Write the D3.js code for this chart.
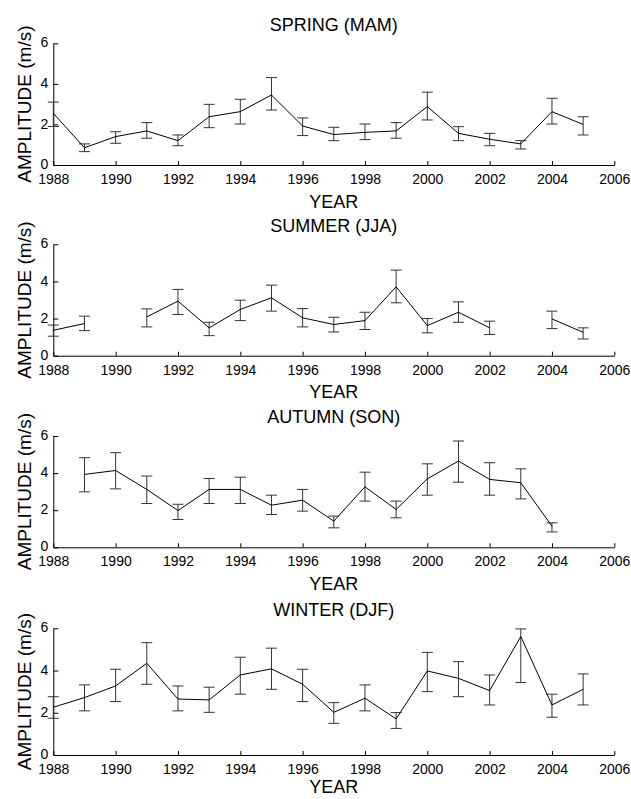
<!DOCTYPE html>
<html>
<head>
<meta charset="utf-8">
<script src="https://cdn.jsdelivr.net/npm/d3@7"></script>
<style>
body { margin: 0; background: #fff; }
text { font-family: "Liberation Sans", Arial, sans-serif; fill: #000; }
</style>
</head>
<body>
<svg id="chart" width="631" height="799"></svg>
<script>
var years = [1988,1989,1990,1991,1992,1993,1994,1995,1996,1997,1998,1999,2000,2001,2002,2003,2004,2005];
var xTicks = [1988,1990,1992,1994,1996,1998,2000,2002,2004,2006];
var yTicks = [0,2,4,6];
var titles = ["SPRING (MAM)", "SUMMER (JJA)", "AUTUMN (SON)", "WINTER (DJF)"];

// amplitude (m/s), with lower / upper end of the error bar; null = no data
var spring    = [2.55,0.85,1.40,1.68,1.20,2.38,2.63,3.45,1.92,1.50,1.61,1.68,2.88,1.56,1.27,1.04,2.63,2.00];
var springLo  = [1.90,0.66,1.07,1.32,0.95,1.84,2.02,2.71,1.45,1.20,1.25,1.32,2.22,1.20,0.95,0.79,2.02,1.48];
var springHi  = [3.10,1.04,1.64,2.09,1.48,2.99,3.24,4.31,2.32,1.86,2.02,2.09,3.59,1.89,1.56,1.20,3.29,2.38];

var summer    = [1.37,1.73,null,2.09,2.94,1.50,2.49,3.12,2.04,1.68,1.89,3.71,1.62,2.34,1.50,null,1.98,1.26];
var summerLo  = [1.05,1.35,null,1.55,2.22,1.08,1.89,2.40,1.55,1.28,1.41,2.85,1.23,1.80,1.14,null,1.46,0.90];
var summerHi  = [1.65,2.13,null,2.52,3.57,1.80,2.99,3.80,2.54,2.07,2.34,4.61,2.00,2.90,1.86,null,2.40,1.50];

var autumn    = [null,3.93,4.14,3.12,1.98,3.12,3.12,2.27,2.54,1.41,3.26,2.04,3.69,4.65,3.66,3.48,1.14,null];
var autumnLo  = [null,2.99,3.15,2.36,1.50,2.36,2.36,1.77,1.95,1.05,2.49,1.59,2.81,3.51,2.81,2.61,0.83,null];
var autumnHi  = [null,4.83,5.10,3.84,2.32,3.71,3.78,2.81,3.12,1.68,4.05,2.49,4.50,5.73,4.56,4.23,1.32,null];

var winter    = [2.26,2.72,3.27,4.34,2.65,2.61,3.79,4.08,3.35,2.02,2.69,1.71,3.98,3.63,3.05,5.61,2.37,3.11];
var winterLo  = [1.74,2.09,2.53,3.35,2.09,2.02,2.88,3.11,2.53,1.50,2.09,1.26,3.00,2.76,2.37,3.43,1.79,2.37];
var winterHi  = [2.76,3.32,4.06,5.32,3.27,3.21,4.63,5.06,4.06,2.48,3.32,2.01,4.86,4.42,3.79,5.97,2.88,3.84];

var seasons = [
    [spring, springLo, springHi],
    [summer, summerLo, summerHi],
    [autumn, autumnLo, autumnHi],
    [winter, winterLo, winterHi]
];

// panel boxes (top / bottom of plot area), panels are not all same height
var panelTop = [43.3, 244.3, 436, 628.3];
var panelBot = [165, 355.7, 547.3, 755];
var left = 53.3, right = 614.3;

var svg = d3.select("#chart");

var x = d3.scaleLinear().domain([1988, 2006]).range([left, right]);

var drawPanel = function(i){
    var top = panelTop[i], bot = panelBot[i];
    var vals = seasons[i][0], lo = seasons[i][1], hi = seasons[i][2];
    var y = d3.scaleLinear().domain([0, 6]).range([bot, top]);
    var g = svg.append("g");

    // axes, ticks pointing inward like the matlab figure
    var xAxis = d3.axisBottom(x).tickValues(xTicks).tickFormat(d3.format("d"))
	.tickSizeInner(-4).tickSizeOuter(0).tickPadding(8);
    var gx = g.append("g").attr("transform", "translate(0," + bot + ")").call(xAxis);
    gx.selectAll("text").attr("font-size", 14).attr("dy", null).attr("y", 19)
	.style("font-family", "Liberation Sans, Arial, sans-serif");

    var yAxis = d3.axisLeft(y).tickValues(yTicks).tickFormat(d3.format("d"))
	.tickSizeInner(-5).tickSizeOuter(0).tickPadding(5);
    var gy = g.append("g").attr("transform", "translate(" + left + ",0)").call(yAxis);
    gy.selectAll("text").attr("font-size", 14).attr("x", -5).attr("dy", "0.26em")
	.style("font-family", "Liberation Sans, Arial, sans-serif");

    g.selectAll(".domain, .tick line").attr("stroke", "#000").attr("stroke-width", 1);

    // error bars
    var pts = [];
    for (var k = 0; k < years.length; k++){
	if (vals[k] != null) pts.push({yr: years[k], v: vals[k], lo: lo[k], hi: hi[k]});
    }
    var eb = g.append("g").attr("stroke", "#333").attr("stroke-width", 1).attr("fill", "none");
    eb.selectAll("line.v").data(pts).enter().append("line")
	.attr("x1", function(d){return x(d.yr);})
	.attr("x2", function(d){return x(d.yr);})
	.attr("y1", function(d){return y(d.lo);})
	.attr("y2", function(d){return y(d.hi);});
    eb.selectAll("line.lo").data(pts).enter().append("line")
	.attr("x1", function(d){return x(d.yr) - 5.5;})
	.attr("x2", function(d){return x(d.yr) + 5.5;})
	.attr("y1", function(d){return y(d.lo);})
	.attr("y2", function(d){return y(d.lo);});
    eb.selectAll("line.hi").data(pts).enter().append("line")
	.attr("x1", function(d){return x(d.yr) - 5.5;})
	.attr("x2", function(d){return x(d.yr) + 5.5;})
	.attr("y1", function(d){return y(d.hi);})
	.attr("y2", function(d){return y(d.hi);});

    // the series line, broken where a year is missing
    var line = d3.line()
	.defined(function(d){return d != null;})
	.x(function(d, k){return x(years[k]);})
	.y(function(d){return y(d);});
    g.append("path").datum(vals)
	.attr("d", line)
	.attr("fill", "none")
	.attr("stroke", "#000")
	.attr("stroke-width", 1);

    // labels
    g.append("text").attr("x", (left + right) / 2).attr("y", top - 12.6)
	.attr("text-anchor", "middle").attr("font-size", 18).text(titles[i]);
    g.append("text").attr("x", (left + right) / 2).attr("y", Math.min(bot + 42.7, 793))
	.attr("text-anchor", "middle").attr("font-size", 18).text("YEAR");
    g.append("text")
	.attr("transform", "translate(31," + ((top + bot) / 2) + ") rotate(-90)")
	.attr("text-anchor", "middle").attr("font-size", 19).text("AMPLITUDE (m/s)");
};

for (var i = 0; i < 4; i++){
    drawPanel(i);
}
</script>
</body>
</html>
